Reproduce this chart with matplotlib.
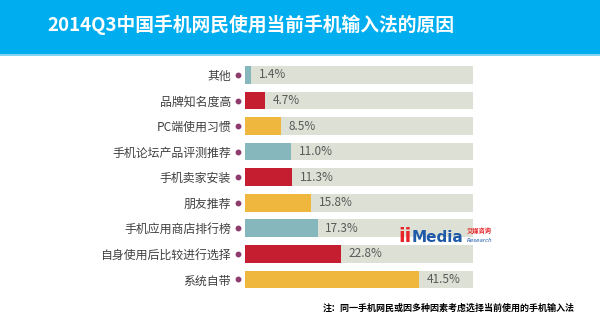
import matplotlib
matplotlib.use("Agg")
import matplotlib.pyplot as plt
from matplotlib.patches import Rectangle

plt.rcParams['font.family'] = ['Noto Sans CJK SC', 'DejaVu Sans']

categories = ["其他", "品牌知名度高", "PC端使用习惯", "手机论坛产品评测推荐", "手机卖家安装",
              "朋友推荐", "手机应用商店排行榜", "自身使用后比较进行选择", "系统自带"]
values = [1.4, 4.7, 8.5, 11.0, 11.3, 15.8, 17.3, 22.8, 41.5]
value_labels = ["1.4%", "4.7%", "8.5%", "11.0%", "11.3%", "15.8%", "17.3%", "22.8%", "41.5%"]
bar_colors = ["#86B7BC", "#C41E30", "#F0B73E"] * 3
bg_max = 54.4
title = "2014Q3中国手机网民使用当前手机输入法的原因"
note = "注：同一手机网民或因多种因素考虑选择当前使用的手机输入法"

W, H = 600, 331
fig = plt.figure(figsize=(W / 100, H / 100), dpi=100)
fig.patch.set_facecolor("white")

# banner
fig.patches.append(Rectangle((0, 1 - 54 / H), 1, 54 / H, transform=fig.transFigure,
                             facecolor="#00AEEF", edgecolor="none", zorder=0))
fig.patches.append(Rectangle((0, 1 - 56 / H), 1, 2 / H, transform=fig.transFigure,
                             facecolor="#86D4F4", edgecolor="none", zorder=0))
fig.text(47 / W, 1 - 25 / H, title, color="white", fontsize=13.5, fontweight="bold",
         ha="left", va="center")

ax = fig.add_axes([245 / W, (H - 292.1) / H, 228 / W, 229.9 / H])
n = len(categories)
ys = list(range(n))
ax.barh(ys, [bg_max] * n, height=0.69, color="#DDE0D4", edgecolor="none", zorder=1)
ax.barh(ys, values, height=0.69, color=bar_colors, edgecolor="none", zorder=2)
for y, v, lab in zip(ys, values, value_labels):
    ax.annotate(lab, (v, y), xytext=(5.5, 0), textcoords="offset points",
                ha="left", va="center", fontsize=8.5, color="#595959", zorder=3)
ax.plot([-1.7] * n, ys, "o", color="#8E3B6E", markersize=3.2, clip_on=False, zorder=3)

ax.set_xlim(0, bg_max)
ax.set_ylim(n - 0.5, -0.5)
ax.set_yticks(ys)
ax.set_yticklabels(categories, fontsize=8.6, color="#404040")
ax.tick_params(axis="y", length=0, pad=10)
ax.set_xticks([])
for s in ax.spines.values():
    s.set_visible(False)
ax.patch.set_alpha(0)

# logo
fig.text(398 / W, 1 - 236 / H, "ii", color="#E8262A", fontsize=14, fontweight="bold",
         ha="left", va="center", family="DejaVu Sans")
fig.text(412 / W, 1 - 237 / H, "Media", color="#1F5AA8", fontsize=11, fontweight="bold",
         ha="left", va="center", family="DejaVu Sans")
fig.text(467 / W, 1 - 230 / H, "艾媒咨询", color="#E8262A", fontsize=4.5, fontweight="bold",
         ha="left", va="center")
fig.text(467 / W, 1 - 241 / H, "Research", color="#1F5AA8", fontsize=4, fontstyle="italic",
         ha="left", va="center", family="DejaVu Sans")

fig.text(575 / W, 1 - 308 / H, note, color="black", fontsize=6.5, fontweight="bold",
         ha="right", va="center")

fig.savefig("out.png", dpi=100)
